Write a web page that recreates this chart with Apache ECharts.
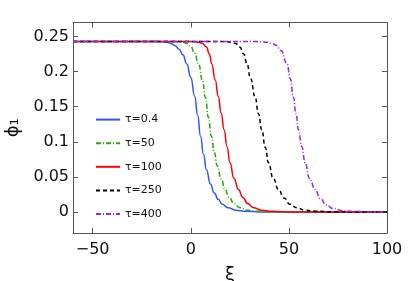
<!DOCTYPE html>
<html><head><meta charset="utf-8">
<script src="https://cdn.jsdelivr.net/npm/echarts@6/dist/echarts.min.js"></script>
<style>html,body{margin:0;padding:0;background:#fff}#c{width:409px;height:281px}</style>
</head><body><div id="c"></div>
<script>
const seriesNames = ['τ=0.4', 'τ=50', 'τ=100', 'τ=250', 'τ=400'];
const xTicks = [-50, 0, 50, 100];
const yTicks = [0, 0.05, 0.1, 0.15, 0.2, 0.25];
const xName = 'ξ';
const yName = 'ϕ₁';

const xi04  = [-60, -20, -15, -12, -10, -8, -6, -4, -2, 0, 2, 3.5, 5, 6.5, 8, 10, 12, 14, 16, 19, 23, 28, 35, 100];
const val04 = [0.243, 0.243, 0.2427, 0.2418, 0.240, 0.237, 0.232, 0.224, 0.211, 0.192, 0.165, 0.138, 0.108, 0.082, 0.060, 0.040, 0.027, 0.018, 0.011, 0.006, 0.0025, 0.001, 0, 0];

const xi50  = [-60, -12, -7, -4, -2, 0, 2, 4, 6, 7.5, 9, 10.5, 12, 13.5, 15.5, 17.5, 19.5, 22, 25, 29, 34, 40, 100];
const val50 = [0.243, 0.243, 0.2427, 0.2418, 0.240, 0.236, 0.226, 0.211, 0.187, 0.163, 0.135, 0.108, 0.085, 0.066, 0.047, 0.032, 0.021, 0.012, 0.006, 0.0025, 0.001, 0, 0];

const xi100  = [-60, -2, 2, 4, 6, 8, 9.5, 10.7, 12.5, 14, 15.5, 17, 18.5, 20, 22, 24.3, 26.5, 29, 32, 36, 41, 48, 100];
const val100 = [0.243, 0.243, 0.2427, 0.2418, 0.240, 0.235, 0.225, 0.211, 0.188, 0.165, 0.141, 0.117, 0.093, 0.070, 0.048, 0.032, 0.021, 0.012, 0.006, 0.0025, 0.001, 0, 0];

const xi250  = [-60, 14, 18, 21, 23, 25, 27, 28.6, 30.5, 32.8, 34.5, 36.2, 38, 39.6, 42, 44.7, 47.5, 50.5, 54, 58, 64, 72, 100];
const val250 = [0.243, 0.243, 0.2427, 0.2418, 0.240, 0.235, 0.225, 0.2117, 0.19, 0.164, 0.140, 0.117, 0.092, 0.070, 0.048, 0.032, 0.020, 0.011, 0.006, 0.0025, 0.001, 0, 0];

const xi400  = [-60, 32, 36, 39, 41.5, 43.5, 46, 49, 50.7, 52.3, 53.6, 54.9, 56.6, 58.3, 60.5, 63.4, 66, 69, 72.5, 77, 83, 90, 100];
const val400 = [0.243, 0.243, 0.2427, 0.2418, 0.240, 0.2375, 0.230, 0.2117, 0.19, 0.164, 0.140, 0.117, 0.093, 0.070, 0.048, 0.032, 0.019, 0.010, 0.005, 0.002, 0.001, 0, 0];

const xs = [xi04, xi50, xi100, xi250, xi400];
const vs = [val04, val50, val100, val250, val400];
const colors = ['#2f55ff', '#22aa00', '#ff0000', '#000000', '#a020f0'];
const dashes = ['solid', [5, 2, 1, 2], 'solid', [4, 3], [5, 2, 1, 2]];

const chart = echarts.init(document.getElementById('c'), null, {renderer: 'canvas'});
const axisCol = '#555';
const font = 'DejaVu Sans';
function pairs(x, v) { return x.map((d, i) => [d, v[i]]); }

chart.setOption({
  animation: false,
  textStyle: {fontFamily: font},
  grid: {left: 73, right: 22, top: 22.5, bottom: 48, containLabel: false, outerBoundsMode: 'none'},
  legend: {
    orient: 'vertical', left: 95, top: 114, padding: 0,
    itemWidth: 24, itemHeight: 14, itemGap: 12.4,
    itemStyle: {opacity: 0},
    textStyle: {fontSize: 11, fontFamily: font, color: '#111'},
    data: seriesNames
  },
  xAxis: [{
    type: 'value', min: -60, max: 100, interval: 50,
    name: xName, nameLocation: 'middle', nameGap: 33,
    nameTextStyle: {fontSize: 18, fontFamily: font, color: '#111'},
    axisLine: {show: true, onZero: false, lineStyle: {color: axisCol, width: 1}},
    axisTick: {show: true, inside: true, length: 5, lineStyle: {color: axisCol}, customValues: xTicks},
    axisLabel: {fontSize: 16, color: '#111', margin: 9, customValues: xTicks,
      formatter: v => (v < 0 ? '\u2212' + Math.abs(v) : String(v))},
    splitLine: {show: false}
  }, {
    type: 'value', min: -60, max: 100, position: 'top',
    axisLine: {show: true, onZero: false, lineStyle: {color: axisCol, width: 1}},
    axisTick: {show: true, inside: true, length: 5, lineStyle: {color: axisCol}, customValues: xTicks},
    axisLabel: {show: false}, splitLine: {show: false}
  }],
  yAxis: [{
    type: 'value', min: -0.03, max: 0.27,
    name: yName, nameLocation: 'middle', nameGap: 50,
    nameTextStyle: {fontSize: 18, fontFamily: font, color: '#111'},
    axisLine: {show: true, onZero: false, lineStyle: {color: axisCol, width: 1}},
    axisTick: {show: true, inside: true, length: 5, lineStyle: {color: axisCol}, customValues: yTicks},
    axisLabel: {fontSize: 16, color: '#111', margin: 4, customValues: yTicks,
      formatter: v => String(Math.round(v * 100) / 100)},
    splitLine: {show: false}
  }, {
    type: 'value', min: -0.03, max: 0.27, position: 'right',
    axisLine: {show: true, onZero: false, lineStyle: {color: axisCol, width: 1}},
    axisTick: {show: true, inside: true, length: 5, lineStyle: {color: axisCol}, customValues: yTicks},
    axisLabel: {show: false}, splitLine: {show: false}
  }],
  series: seriesNames.map((n, i) => ({
    name: n, type: 'line', xAxisIndex: 0, yAxisIndex: 0,
    data: pairs(xs[i], vs[i]), smooth: 0.5, smoothMonotone: 'x',
    symbol: 'none', showSymbol: false,
    lineStyle: {color: colors[i], width: 1.5, type: dashes[i]},
    itemStyle: {color: colors[i]},
    z: 2 + i
  }))
});
</script></body></html>
